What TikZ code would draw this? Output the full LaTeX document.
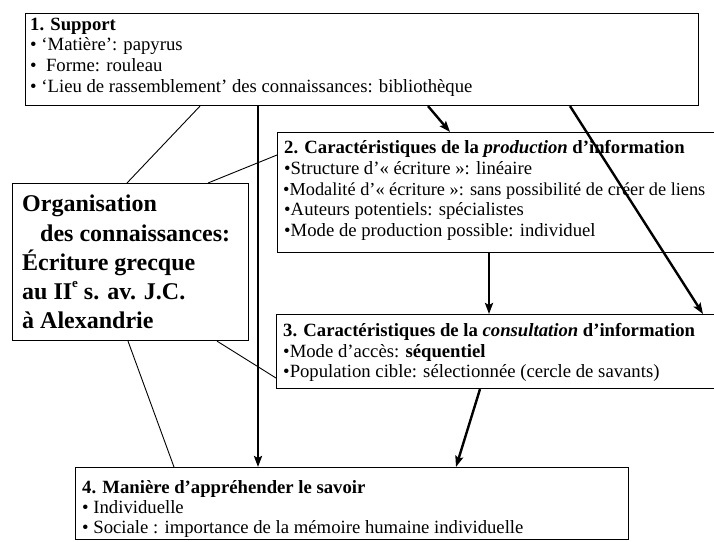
\documentclass[tikz,border=0pt]{standalone}
\usepackage{fontspec}
\setmainfont{Liberation Serif}
\usetikzlibrary{arrows.meta,calc}
\tikzset{%
  tipH/.tip={Stealth[length=11pt,width=8pt,inset=2pt]},
}
\tikzset{%
  frame/.style={draw, line width=1.1pt, inner sep=0pt, anchor=north west},
  txt/.style={anchor=base west, inner sep=0pt, font=\fontsize{18.7}{21}\selectfont},
  big/.style={anchor=base west, inner sep=0pt, font=\fontsize{24}{29}\selectfont\bfseries},
  link/.style={line width=0.9pt},
  flow/.style={line width=2.4pt,-tipH}
}
\newcommand{\supe}{\raisebox{0.5em}{\fontsize{13}{13}\selectfont e}}

\begin{document}
\begin{tikzpicture}[x=1pt,y=-1pt]
\useasboundingbox (0,0) rectangle (714,541);
\clip (0,0) rectangle (714,541);
% boxes
\node[frame, minimum width=673pt, minimum height=92pt] (sup) at (25,13) {};
\node[frame, minimum width=483pt, minimum height=120pt] (prod) at (277,132) {};
\node[frame, minimum width=484pt, minimum height=74pt] (cons) at (276,314) {};
\node[frame, minimum width=236pt, minimum height=157pt] (org) at (12,183) {};
\node[frame, minimum width=553pt, minimum height=72pt] (sav) at (75,467) {};
% 1. support
\node[txt] (sup-t) at (30,30) {\textbf{1. Support}};
\node[txt] (sup-a) at (30,50) {• ‘Matière’: papyrus};
\node[txt] (sup-b) at (30,71) {•\ \ Forme: rouleau};
\node[txt] (sup-c) at (30,92) {• ‘Lieu de rassemblement’ des connaissances: bibliothèque};
% 2. production
\node[txt] (prod-t) at (284,153) {\textbf{2. Caractéristiques de la \textit{production} d’information}};
\node[txt] (prod-a) at (284,174) {•Structure d’« écriture »: linéaire};
\node[txt, font=\fontsize{18.3}{21}\selectfont] (prod-b) at (283,195) {•Modalité d’« écriture »: sans possibilité de créer de liens};
\node[txt] (prod-c) at (284,215) {•Auteurs potentiels: spécialistes};
\node[txt] (prod-d) at (284,236) {•Mode de production possible: individuel};
% 3. consultation
\node[txt] (cons-t) at (283,336) {\textbf{3. Caractéristiques de la \textit{consultation} d’information}};
\node[txt] (cons-a) at (283,357) {•Mode d’accès: \textbf{séquentiel}};
\node[txt] (cons-b) at (283,377) {•Population cible: sélectionnée (cercle de savants)};
% 4. savoir
\node[txt] (sav-t) at (82,493) {\textbf{4. Manière d’appréhender le savoir}};
\node[txt] (sav-a) at (82,513) {• Individuelle};
\node[txt] (sav-b) at (82,533) {• Sociale : importance de la mémoire humaine individuelle};
% organisation
\node[big] (org-a) at (22,211) {Organisation};
\node[big] (org-b) at (40,241) {des connaissances:};
\node[big] (org-c) at (22,270) {Écriture grecque};
\node[big] (org-d) at (22,299) {au II\supe\ s. av. J.C.};
\node[big] (org-e) at (22,328) {à Alexandrie};
% thin links
\draw[link] ($(sup.south west)+(175,0)$) -- ($(org.north west)+(115,0)$);
\draw[link] ($(org.north west)+(196,0)$) -- ($(prod.north west)+(0,23)$);
\draw[link] ($(org.south west)+(205,0)$) -- ($(cons.north west)+(0,64)$);
\draw[link] ($(org.south west)+(116,0)$) -- ($(sav.north west)+(99,0)$);
% arrows
\draw[flow] ($(sup.south west)+(233,0)$) -- ($(sav.north west)+(183,0)$);
\draw[flow] ($(sup.south west)+(403,0)$) -- ($(prod.north west)+(173,0)$);
\draw[flow] ($(sup.south west)+(545,0)$) -- ($(cons.north west)+(427,0)$);
\draw[flow] ($(prod.south west)+(212,0)$) -- ($(cons.north west)+(213,0)$);
\draw[flow] ($(cons.south west)+(204,0)$) -- ($(sav.north west)+(381,0)$);
\end{tikzpicture}
\end{document}
